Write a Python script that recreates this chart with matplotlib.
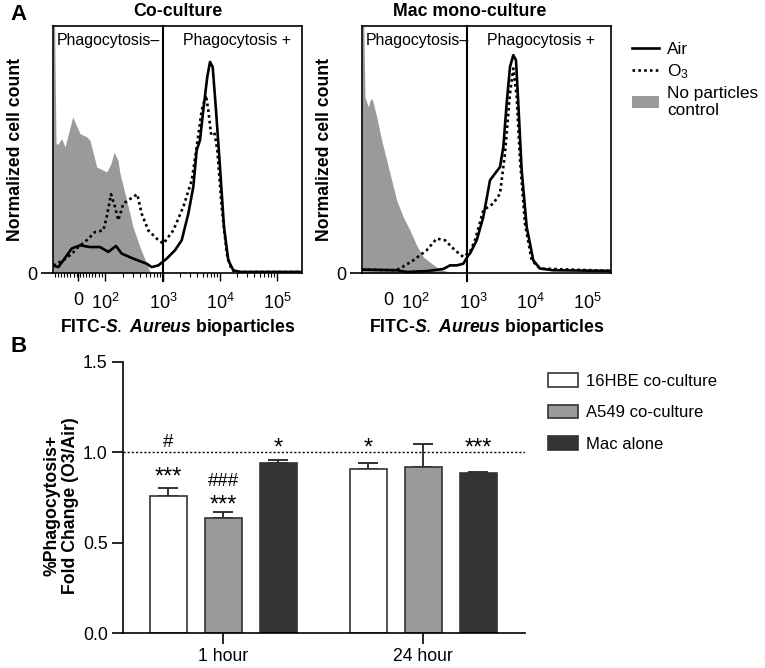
import numpy as np
import matplotlib
matplotlib.use("Agg")
import matplotlib.pyplot as plt
from matplotlib.lines import Line2D
from matplotlib.patches import Patch

plt.rcParams['font.family'] = ['Liberation Sans', 'DejaVu Sans']
plt.rcParams['mathtext.fontset'] = 'custom'
plt.rcParams['mathtext.rm'] = 'Liberation Sans'
plt.rcParams['mathtext.it'] = 'Liberation Sans:italic:bold'
plt.rcParams['mathtext.bf'] = 'Liberation Sans:bold'

# ---- panel A: histograms (x in display decades, y in % of max) ----
# co-culture
co_ctrl_x = [1.070, 1.095, 1.123, 1.158, 1.223, 1.281, 1.416, 1.544, 1.661, 1.719,
             1.837, 2.012, 2.088, 2.140, 2.211, 2.246, 2.363, 2.474, 2.596, 2.714,
             2.772, 2.825]
co_ctrl_y = [125, 125, 61.3, 61.0, 63.7, 59.7, 73.9, 66.0, 64.5, 62.9,
             50.2, 47.9, 51.8, 57.3, 53.4, 47.1, 34.5, 21.8, 12.3, 4.4,
             0.5, 0.0]
co_air_x = [1.075, 1.163, 1.251, 1.398, 1.544, 1.719, 1.895, 2.040, 2.175, 2.275,
            2.479, 2.714, 2.802, 2.918, 3.065, 3.211, 3.328, 3.444, 3.532, 3.591,
            3.649, 3.707, 3.777, 3.825, 3.872, 3.930, 4.000, 4.070, 4.146, 4.233,
            4.351, 5.44]
co_air_y = [3.6, 2.8, 6.0, 11.6, 13.1, 12.3, 12.3, 10.0, 12.8, 9.2,
            6.8, 4.4, 2.8, 3.6, 6.8, 10.8, 15.5, 28.1, 40.8, 58.2,
            62.9, 77.1, 92.9, 100.0, 97.6, 77.1, 50.2, 21.8, 6.0, 1.3,
            0.5, 0.5]
co_o3_x = [1.075, 1.251, 1.398, 1.486, 1.661, 1.807, 1.953, 2.012, 2.088, 2.158,
           2.216, 2.304, 2.391, 2.549, 2.626, 2.742, 2.889, 3.005, 3.181, 3.356,
           3.504, 3.591, 3.679, 3.754, 3.795, 3.842, 3.900, 3.953, 4.030, 4.118,
           4.205, 4.351, 5.44]
co_o3_y = [3.6, 6.0, 9.0, 11.6, 15.5, 19.4, 20.2, 26.5, 37.3, 31.3,
           25.0, 32.9, 34.5, 37.3, 28.1, 20.2, 16.3, 13.9, 20.2, 31.3,
           43.9, 59.7, 77.1, 84.2, 77.1, 66.0, 66.8, 58.2, 31.3, 9.2,
           1.3, 0.5, 0.5]

# mac mono-culture
mac_ctrl_x = [1.053, 1.080, 1.105, 1.163, 1.205, 1.240, 1.311, 1.398, 1.486, 1.574,
              1.661, 1.777, 1.895, 2.012, 2.128, 2.275, 2.421, 2.596, 2.830]
mac_ctrl_y = [125, 125, 83.4, 78.7, 82.6, 81.8, 73.9, 62.9, 53.4, 43.9,
              34.5, 26.5, 20.2, 13.1, 7.6, 4.5, 1.6, 0.5, 0.0]
mac_air_x = [1.058, 1.661, 1.837, 2.188, 2.479, 2.596, 2.714, 2.830, 2.918, 2.947,
             3.065, 3.181, 3.298, 3.386, 3.474, 3.532, 3.591, 3.649, 3.707, 3.754,
             3.795, 3.854, 3.942, 4.058, 4.175, 4.409, 5.42]
mac_air_y = [1.6, 1.3, 0.5, 0.9, 1.9, 3.6, 3.6, 4.4, 8.4, 9.2,
             15.5, 26.5, 43.9, 47.1, 50.2, 59.7, 80.3, 97.6, 103.2, 100.8,
             80.3, 48.7, 21.8, 6.0, 2.1, 1.3, 1.0]
mac_o3_x = [1.058, 1.630, 1.719, 1.953, 2.188, 2.363, 2.509, 2.684, 2.830, 2.947,
            3.035, 3.181, 3.356, 3.474, 3.561, 3.649, 3.707, 3.767, 3.825, 3.912,
            4.030, 4.175, 5.42]
mac_o3_y = [1.6, 1.3, 2.1, 6.0, 10.8, 16.3, 15.5, 10.8, 7.6, 10.0,
            15.5, 29.7, 32.9, 37.6, 56.6, 85.0, 96.9, 83.4, 53.4, 23.4,
            6.0, 2.1, 1.0]

fitc_ticks = [1.51, 1.98, 3, 4, 5]
fitc_labels = ['0', r'$\mathregular{10^{2}}$', r'$\mathregular{10^{3}}$',
               r'$\mathregular{10^{4}}$', r'$\mathregular{10^{5}}$']

# ---- panel B: bars ----
groups = ['1 hour', '24 hour']
series = ['16HBE co-culture', 'A549 co-culture', 'Mac alone']
means = [[0.76, 0.906], [0.635, 0.920], [0.942, 0.884]]
sems = [[0.040, 0.036], [0.036, 0.124], [0.017, 0.009]]
stars = [[['***', '#'], ['*']], [['***', '###'], []], [['*'], ['***']]]
star_y = [[[0.826, 1.028], [0.987]], [[0.671, 0.812], []], [[0.987], [0.987]]]

gray = '#9a9a9a'
fig = plt.figure(figsize=(7.65, 6.68), dpi=100)


def hist_panel(rect, xlim, gate, ctrl, air, o3, title, title_x, minor):
    ax = fig.add_axes(rect)
    ax.fill_between(ctrl[0], ctrl[1], 0, color=gray, lw=0)
    ax.plot(air[0], air[1], color='black', lw=1.9)
    ax.plot(o3[0], o3[1], color='black', lw=1.9, ls=(0, (1, 1.2)))
    ax.plot([gate, gate], [-4, 117], color='black', lw=1.5, clip_on=False)
    ax.set_xlim(*xlim)
    ax.set_ylim(0, 117)
    for s in ax.spines.values():
        s.set_linewidth(1.2)
    ax.set_yticks([0])
    ax.set_yticklabels(['0'], fontsize=13)
    ax.tick_params(axis='y', length=9, width=1.2, pad=2)
    ax.set_xticks(fitc_ticks)
    ax.set_xticklabels(fitc_labels, fontsize=13)
    if minor:
        ax.set_xticks(minor, minor=True)
        ax.tick_params(axis='x', which='major', length=6, width=1, pad=8)
        ax.tick_params(axis='x', which='minor', length=3, width=0.8)
    else:
        ax.tick_params(axis='x', which='major', length=0, pad=14)
    ax.set_ylabel('Normalized cell count', fontsize=12.7, fontweight='bold')
    ax.yaxis.set_label_coords(-0.118, 0.5)
    ax.set_xlabel(r'FITC-$\mathit{S.}$ $\mathit{Aureus}$ bioparticles', fontsize=12.7,
                  fontweight='bold', labelpad=3)
    ax.text(0.017, 0.94, 'Phagocytosis\u2013', transform=ax.transAxes,
            fontsize=11.4, va='center')
    ax.text((gate - xlim[0]) / (xlim[1] - xlim[0]) + 0.08, 0.94, 'Phagocytosis +',
            transform=ax.transAxes, fontsize=11.4, va='center')
    fig.text(title_x, 1 - 12 / 668, title, fontsize=12.8, fontweight='bold',
             ha='center', va='center')
    return ax


minor_ticks = list(np.arange(1.10, 1.97, 0.055)) + \
    [d + np.log10(k) for d in (2, 3, 4) for k in range(2, 10)]
minor_ticks = [m for m in minor_ticks if 2.02 < m or m < 1.96]

ax1 = hist_panel([53 / 765, 1 - 273 / 668, 249 / 765, 247 / 668], (1.070, 5.439), 3.0,
                 (co_ctrl_x, co_ctrl_y), (co_air_x, co_air_y), (co_o3_x, co_o3_y),
                 'Co-culture', 177.5 / 765, minor_ticks)
ax2 = hist_panel([362 / 765, 1 - 273 / 668, 249 / 765, 247 / 668], (1.053, 5.421), 2.895,
                 (mac_ctrl_x, mac_ctrl_y), (mac_air_x, mac_air_y), (mac_o3_x, mac_o3_y),
                 'Mac mono-culture', 470 / 765, None)

handles = [Line2D([], [], color='black', lw=1.9),
           Line2D([], [], color='black', lw=1.9, ls=(0, (1, 1.2))),
           Patch(facecolor=gray, edgecolor='none')]
ax2.legend(handles, ['Air', r'O$_\mathregular{3}$', 'No particles\ncontrol'],
           loc='upper left', bbox_to_anchor=(632 / 765, 1 - 42 / 668),
           bbox_transform=fig.transFigure, frameon=False, fontsize=12.4,
           handlelength=1.55, handletextpad=0.5, labelspacing=0.3,
           borderaxespad=0, borderpad=0)

fig.text(10 / 765, 1 - 15 / 668, 'A', fontsize=16, fontweight='bold', va='center')
fig.text(10 / 765, 1 - 347 / 668, 'B', fontsize=16, fontweight='bold', va='center')

# ---- panel B ----
axb = fig.add_axes([123 / 765, 1 - 633 / 668, 402 / 765, 271 / 668])
centers = np.array([0, 3.64])
fills = ['white', gray, '#333333']
width = 0.67
for i, name in enumerate(series):
    xs = centers + (i - 1)
    axb.bar(xs, means[i], width=width, color=fills[i], edgecolor='#333333',
            lw=1.2, label=name, zorder=2)
    axb.errorbar(xs, means[i], yerr=[np.zeros(2), sems[i]], fmt='none',
                 ecolor='#222222', elinewidth=1.3, capsize=7.5, capthick=1.3, zorder=1)
    for g in range(2):
        for txt, yy in zip(stars[i][g], star_y[i][g]):
            fs = 17 if '*' in txt else 13.4
            axb.text(xs[g], yy, txt, ha='center', va='baseline', fontsize=fs)
axb.axhline(1.0, color='black', lw=1, ls=(0, (1.5, 1.5)), zorder=0)
axb.set_xlim(-1.82, 5.49)
axb.set_ylim(0, 1.5)
axb.set_yticks([0, 0.5, 1.0, 1.5])
axb.set_yticklabels(['0.0', '0.5', '1.0', '1.5'], fontsize=12.7)
axb.set_xticks(centers)
axb.set_xticklabels(groups, fontsize=12.7)
axb.tick_params(length=8, width=1.2, pad=3)
axb.spines['top'].set_visible(False)
axb.spines['right'].set_visible(False)
axb.spines['left'].set_linewidth(1.2)
axb.spines['bottom'].set_linewidth(1.2)
axb.set_ylabel('%Phagocytosis+\nFold Change (O3/Air)', fontsize=12.7,
               fontweight='bold', linespacing=1.1)
axb.yaxis.set_label_coords(-0.11, 0.47)
axb.legend(loc='upper left', bbox_to_anchor=(548 / 765, 1 - 373 / 668),
           bbox_transform=fig.transFigure, frameon=False, fontsize=12,
           handlelength=1.8, handleheight=0.9, handletextpad=0.45,
           labelspacing=0.95, borderaxespad=0, borderpad=0)

fig.savefig('out.png', dpi=100)
